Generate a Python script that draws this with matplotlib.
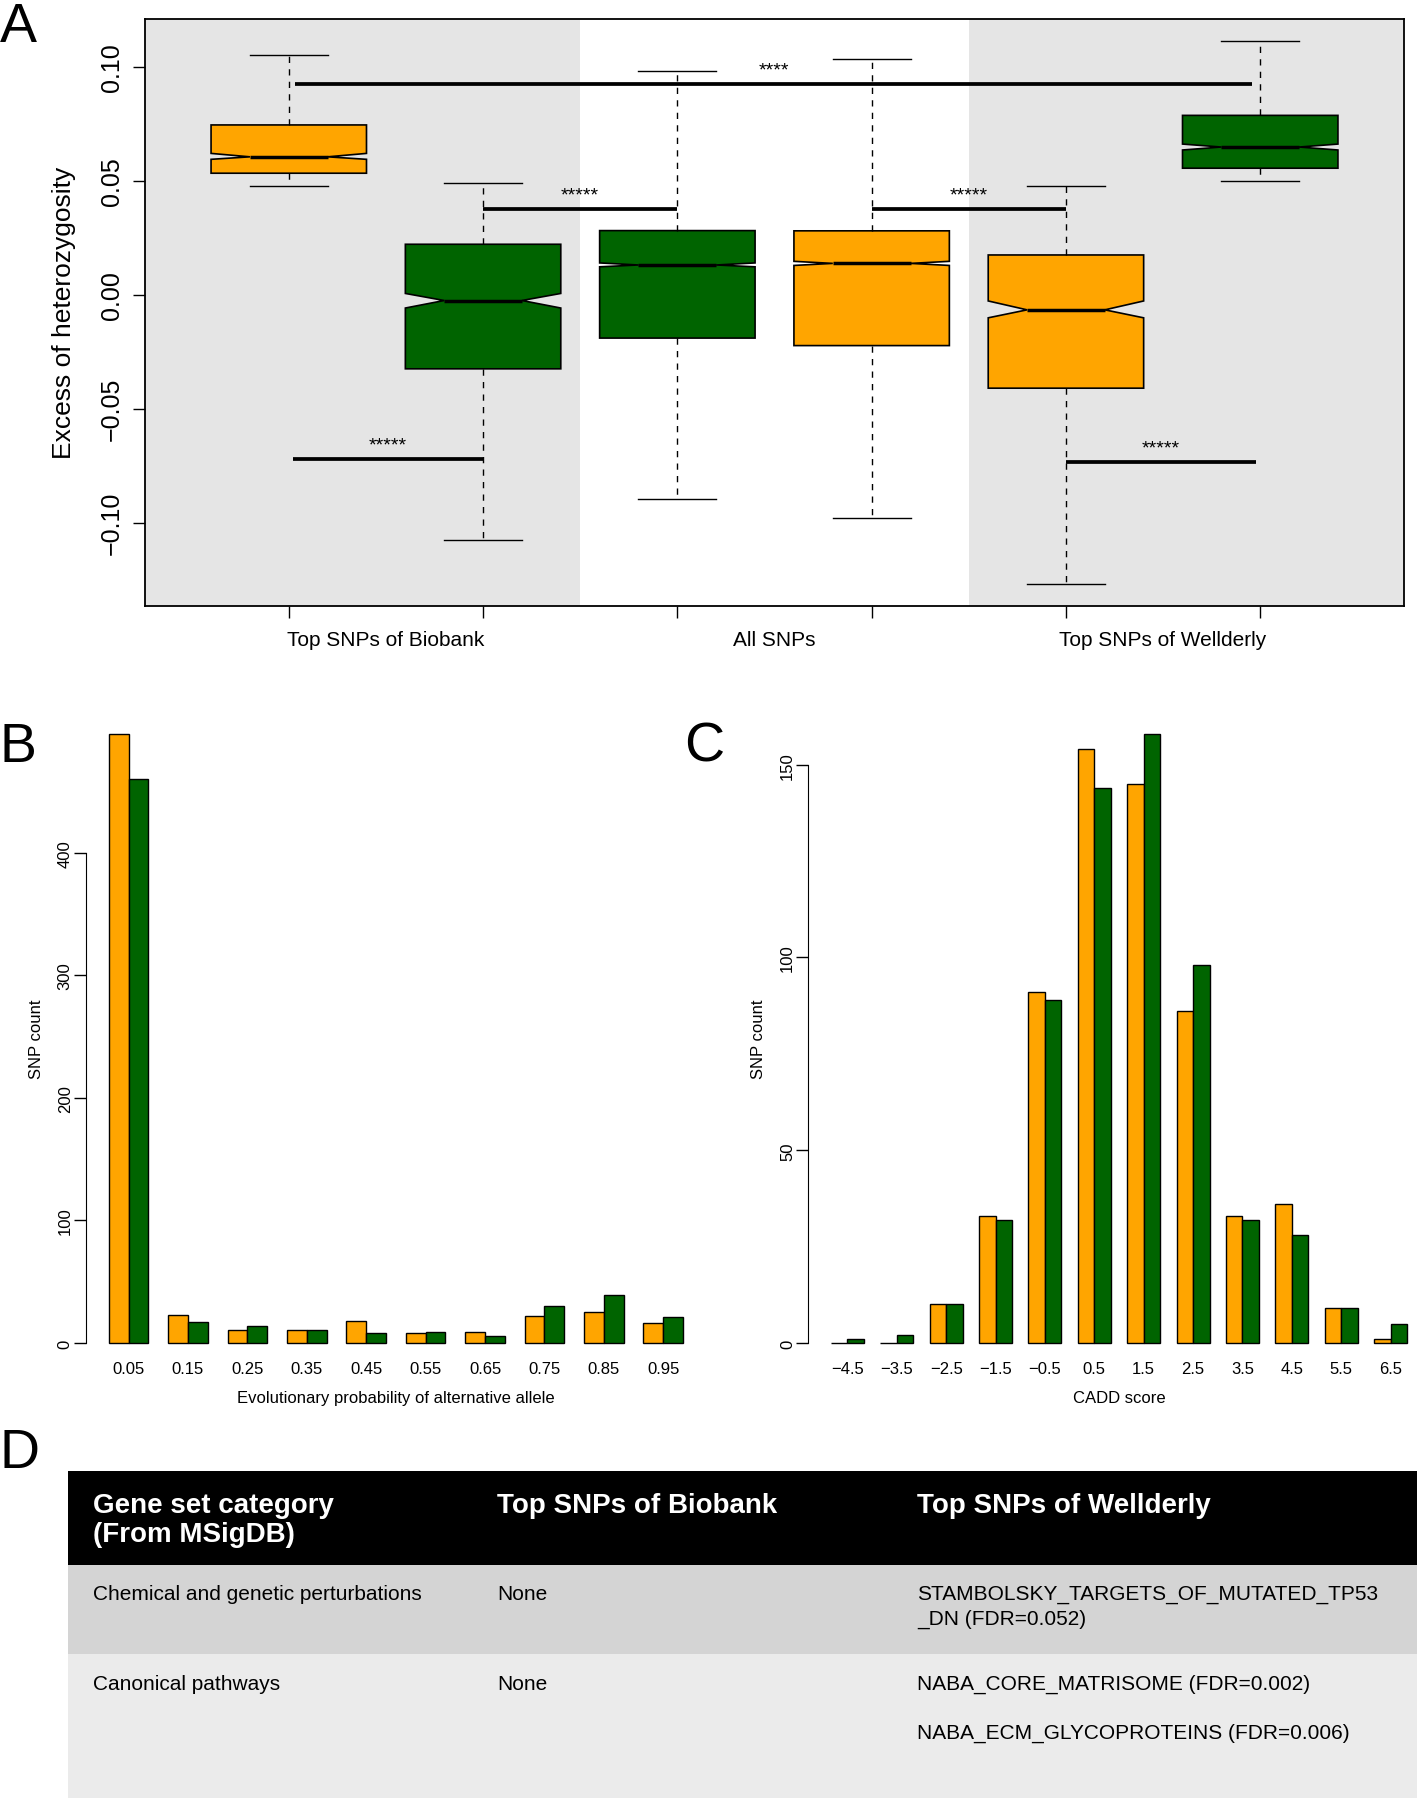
import numpy as np
import matplotlib.pyplot as plt

plt.rcParams['font.family'] = ['Liberation Sans', 'DejaVu Sans']

ORANGE = '#FFA500'
GREEN = '#006400'

# ---- panel A: notched boxplots
group_labels = ['Top SNPs of Biobank', 'All SNPs', 'Top SNPs of Wellderly']
box_whislo = [0.0480, -0.1075, -0.0897, -0.0978, -0.1269, 0.0499]
box_q1 = [0.0534, -0.0325, -0.0190, -0.0223, -0.0410, 0.0556]
box_med = [0.0606, -0.0025, 0.0131, 0.0138, -0.0066, 0.0649]
box_q3 = [0.0746, 0.0222, 0.0282, 0.0281, 0.0175, 0.0788]
box_whishi = [0.1052, 0.0493, 0.0982, 0.1036, 0.0479, 0.1115]
box_cilo = [0.0595, -0.0058, 0.0123, 0.0129, -0.0101, 0.0636]
box_cihi = [0.0621, 0.0006, 0.0140, 0.0147, -0.0027, 0.0662]
box_colors = [ORANGE, GREEN, GREEN, ORANGE, ORANGE, GREEN]

# significance bars between boxes
sig_x0 = [1.03, 2, 4, 1.02, 5]
sig_x1 = [5.96, 3, 5, 2, 5.98]
sig_y = [0.0925, 0.0377, 0.0375, -0.0721, -0.0734]
sig_text = ['****', '*****', '*****', '*****', '*****']

# ---- panel B
evo_bins = ['0.05', '0.15', '0.25', '0.35', '0.45', '0.55', '0.65', '0.75', '0.85', '0.95']
evo_biobank = [497, 23, 11, 11, 18, 8, 9, 22, 25, 16]
evo_wellderly = [460, 17, 14, 11, 8, 9, 6, 30, 39, 21]

# ---- panel C
cadd_bins = ['\u22124.5', '\u22123.5', '\u22122.5', '\u22121.5', '\u22120.5', '0.5',
             '1.5', '2.5', '3.5', '4.5', '5.5', '6.5']
cadd_biobank = [0, 0, 10, 33, 91, 154, 145, 86, 33, 36, 9, 1]
cadd_wellderly = [1, 2, 10, 32, 89, 144, 158, 98, 32, 28, 9, 5]

# ---- panel D
table_header = ['Gene set category\n(From MSigDB)', 'Top SNPs of Biobank', 'Top SNPs of Wellderly']
table_rows = [
    ['Chemical and genetic perturbations', 'None',
     'STAMBOLSKY_TARGETS_OF_MUTATED_TP53\n_DN (FDR=0.052)'],
    ['Canonical pathways', 'None',
     'NABA_CORE_MATRISOME (FDR=0.002)\n\nNABA_ECM_GLYCOPROTEINS (FDR=0.006)'],
]

W, H = 1417, 1799
fig = plt.figure(figsize=(W / 100, H / 100), dpi=100)


def px_axes(x0, y0, x1, y1):
    return fig.add_axes([x0 / W, 1 - y1 / H, (x1 - x0) / W, (y1 - y0) / H])


def minus(s):
    return s.replace('-', '\u2212')


# ================= A
axA = px_axes(145, 20.2, 1404, 606.5)
n = len(box_med)
pos = np.arange(1, n + 1)
lo, hi = min(box_whislo), max(box_whishi)
axA.set_xlim(0.5 - 0.04 * n, n + 0.5 + 0.04 * n)
axA.set_ylim(lo - 0.04 * (hi - lo), hi + 0.04 * (hi - lo))
xl = axA.get_xlim()
axA.axvspan(xl[0], 2.5, color='#e5e5e5', zorder=0, lw=0)
axA.axvspan(4.5, xl[1], color='#e5e5e5', zorder=0, lw=0)

stats = []
for i in range(n):
    stats.append(dict(med=box_med[i], q1=box_q1[i], q3=box_q3[i],
                      whislo=box_whislo[i], whishi=box_whishi[i],
                      cilo=box_cilo[i], cihi=box_cihi[i], fliers=[]))
bp = axA.bxp(stats, positions=pos, widths=0.8, shownotches=True, patch_artist=True,
             showfliers=False, manage_ticks=False,
             boxprops=dict(edgecolor='black', linewidth=1.2),
             medianprops=dict(color='black', linewidth=2.5),
             whiskerprops=dict(color='black', linewidth=1, linestyle=(0, (4.5, 4.5))),
             capprops=dict(color='black', linewidth=1))
for patch, c in zip(bp['boxes'], box_colors):
    patch.set_facecolor(c)

for x0, x1, y, t in zip(sig_x0, sig_x1, sig_y, sig_text):
    axA.plot([x0, x1], [y, y], color='black', lw=2.7, solid_capstyle='butt', zorder=4)
    axA.annotate(t, ((x0 + x1) / 2, y), xytext=(0, 7), textcoords='offset points',
                 ha='center', va='baseline', fontsize=14)

for s in axA.spines.values():
    s.set_linewidth(1.3)
axA.set_xticks(pos)
axA.set_xticklabels([])
axA.set_xticks([1.5, 3.5, 5.5], minor=True)
axA.set_xticklabels(group_labels, minor=True, fontsize=15)
axA.tick_params(axis='x', which='major', length=8.8, width=1)
axA.tick_params(axis='x', which='minor', length=0, pad=18)
yt = [-0.10, -0.05, 0.0, 0.05, 0.10]
axA.set_yticks(yt)
axA.set_yticklabels([minus(f'{v:.2f}') for v in yt], fontsize=18, rotation=90, va='center')
axA.tick_params(axis='y', length=8.6, width=1, pad=6.7)
axA.set_ylabel('Excess of heterozygosity', fontsize=19)
axA.yaxis.set_label_coords(-0.055, 0.5)


# ================= B and C
def bar_panel(ax, cats, a, b, yticks, xlabel):
    k = len(cats)
    left = np.arange(k) * 3 + 1
    ax.bar(left + 0.5, a, width=1, color=ORANGE, edgecolor='black', linewidth=1)
    ax.bar(left + 1.5, b, width=1, color=GREEN, edgecolor='black', linewidth=1)
    x_lo, x_hi = 1, 3 * k
    ax.set_xlim(x_lo - 0.04 * (x_hi - x_lo), x_hi + 0.04 * (x_hi - x_lo))
    top = max(max(a), max(b))
    ax.set_ylim(-0.04 * top, 1.04 * top)
    for side in ['top', 'right', 'bottom']:
        ax.spines[side].set_visible(False)
    ax.spines['left'].set_bounds(yticks[0], yticks[-1])
    ax.set_yticks(yticks)
    ax.set_yticklabels([str(v) for v in yticks], rotation=90, va='center', fontsize=12)
    ax.tick_params(axis='y', length=8.9, width=1, pad=0.5)
    ax.set_xticks(left + 1)
    ax.set_xticklabels(cats, fontsize=12)
    ax.tick_params(axis='x', length=0, pad=-4.5)
    ax.set_xlabel(xlabel, fontsize=12)
    ax.xaxis.set_label_coords(0.5, -0.0344)
    ax.set_ylabel('SNP count', fontsize=12)
    ax.yaxis.set_label_coords(-0.068, 0.5)


axB = px_axes(85.8, 710.5, 706, 1368.4)
bar_panel(axB, evo_bins, evo_biobank, evo_wellderly, [0, 100, 200, 300, 400],
          'Evolutionary probability of alternative allele')
axC = px_axes(808, 710.5, 1430, 1368.4)
bar_panel(axC, cadd_bins, cadd_biobank, cadd_wellderly, [0, 50, 100, 150], 'CADD score')

# ================= D: table
axD = px_axes(67.8, 1471.7, 1417, 1799)
axD.set_xlim(67.8, 1417)
axD.set_ylim(1799, 1471.7)
axD.axis('off')
row_edges = [1471.7, 1565.7, 1655, 1799]
row_fills = ['black', '#d4d4d4', '#ebebeb']
for (y0, y1), c in zip(zip(row_edges[:-1], row_edges[1:]), row_fills):
    axD.axhspan(y0, y1, color=c, lw=0)
col_x = [93, 497, 917]
for x, txt in zip(col_x, table_header):
    for j, line in enumerate(txt.split('\n')):
        axD.text(x, 1513 + j * 29, line, color='white', fontsize=20, fontweight='bold',
                 va='baseline', ha='left')
row_base = [1600, 1690]
for yb, row in zip(row_base, table_rows):
    for x, txt in zip(col_x, row):
        for j, line in enumerate(txt.split('\n')):
            axD.text(x, yb + j * 24.5, line, color='black', fontsize=15,
                     va='baseline', ha='left')

# panel letters
for lab, x, yb in [('A', 0, 42), ('B', 0, 762), ('C', 684, 762), ('D', 0, 1468)]:
    fig.text(x / W, 1 - yb / H, lab, fontsize=40, va='baseline', ha='left')

fig.savefig('out.png', dpi=100)
